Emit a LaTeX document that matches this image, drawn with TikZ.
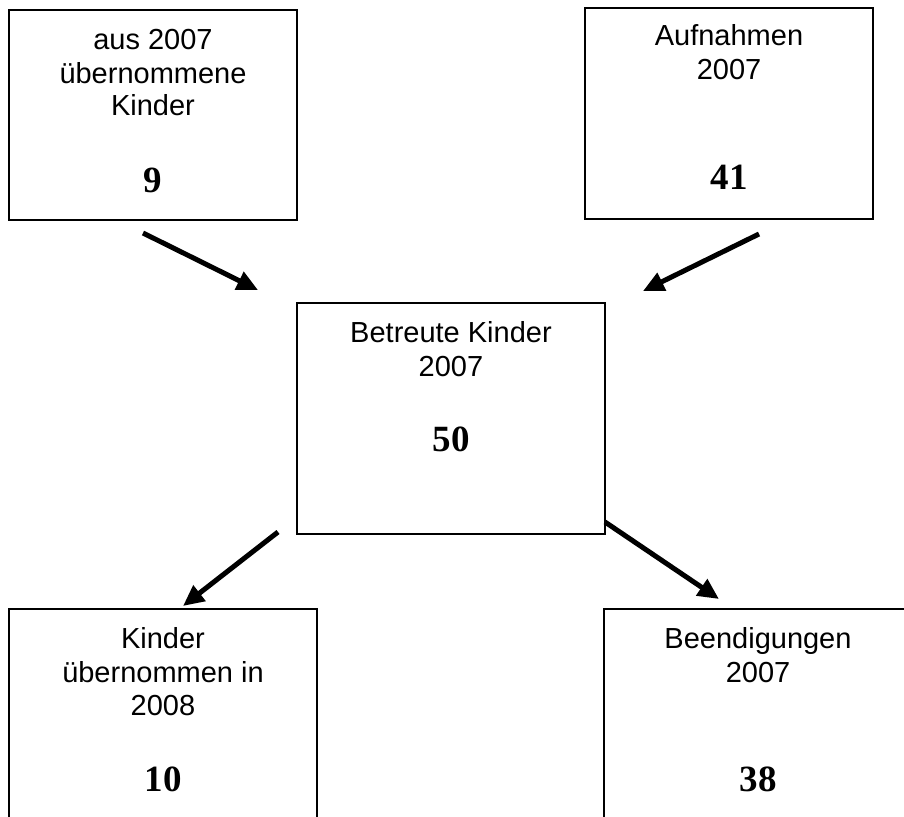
\documentclass[tikz,border=0pt]{standalone}
\usepackage{fontspec}
\setmainfont{Liberation Sans}
\newfontfamily\numfont{Liberation Serif}
\usetikzlibrary{arrows.meta}
\begin{document}
\begin{tikzpicture}[x=1pt,y=-1pt,
  box/.style={draw=black,line width=2pt,inner sep=0pt,rectangle},
  txt/.style={anchor=base,inner sep=0pt,font=\fontsize{29}{33}\selectfont},
  num/.style={anchor=base,inner sep=0pt,font=\fontsize{37}{40}\selectfont\numfont\bfseries},
  arr/.style={line width=5pt,-{Triangle[length=21pt,width=19pt]}}]
\useasboundingbox (0,0) rectangle (904,816);
\clip (0,0) rectangle (904,816);
% boxes
\node[box,minimum width=288pt,minimum height=210pt] (b1) at (153,115) {};
\node[box,minimum width=288pt,minimum height=211pt] (b2) at (729,113.5) {};
\node[box,minimum width=308pt,minimum height=231pt] (b3) at (451,418.5) {};
\node[box,minimum width=308pt,minimum height=221pt] (b4) at (163,719.5) {};
\node[box,minimum width=308pt,minimum height=221pt] (b5) at (758,719.5) {};
% texts box 1
\node[txt] (t1a) at (153,50) {aus 2007};
\node[txt] (t1b) at (153,83) {übernommene};
\node[txt] (t1c) at (153,115) {Kinder};
\node[num] (n1) at (153,192) {9};
% box 2
\node[txt] (t2a) at (729,46) {Aufnahmen};
\node[txt] (t2b) at (729,79) {2007};
\node[num] (n2) at (729,189) {41};
% box 3
\node[txt] (t3a) at (451,342) {Betreute Kinder};
\node[txt] (t3b) at (451,376) {2007};
\node[num] (n3) at (451,451) {50};
% box 4
\node[txt] (t4a) at (163,648) {Kinder};
\node[txt] (t4b) at (163,682) {übernommen in};
\node[txt] (t4c) at (163,715) {2008};
\node[num] (n4) at (163,791) {10};
% box 5
\node[txt] (t5a) at (758,648) {Beendigungen};
\node[txt] (t5b) at (758,682) {2007};
\node[num] (n5) at (758,791) {38};
% arrows
\coordinate (a1s) at (143,233);
\coordinate (a1e) at (258,290);
\coordinate (a2s) at (759,234);
\coordinate (a2e) at (643,291);
\coordinate (a3s) at (278,532);
\coordinate (a3e) at (183,606);
\coordinate (a4s) at (605,522);
\coordinate (a4e) at (719,599);
\draw[arr] (a1s) -- (a1e);
\draw[arr] (a2s) -- (a2e);
\draw[arr] (a3s) -- (a3e);
\draw[arr] (a4s) -- (a4e);
\end{tikzpicture}
\end{document}
